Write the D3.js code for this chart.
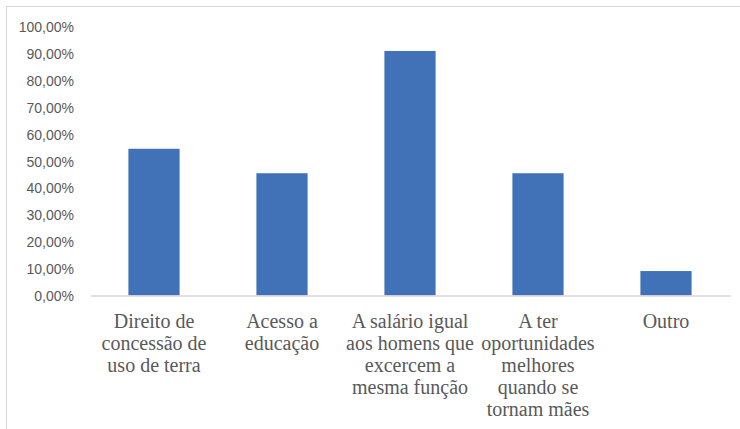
<!DOCTYPE html>
<html>
<head>
<meta charset="utf-8">
<script src="https://cdn.jsdelivr.net/npm/d3@7"></script>
<style>
  html, body { margin: 0; padding: 0; background: #fff; }
  svg { display: block; }
</style>
</head>
<body>
<svg id="chart" width="740" height="429"></svg>
<script>
// Categories (line breaks mark how each label wraps under its bar)
const categories = [
  "Direito de\nconcessão de\nuso de terra",
  "Acesso a\neducação",
  "A salário igual\naos homens que\nexcercem a\nmesma função",
  "A ter\noportunidades\nmelhores\nquando se\ntornam mães",
  "Outro"
];
// Share of responses for each category (percent)
const values = [54.55, 45.45, 90.91, 45.45, 9.09];
// Y axis ticks (percent)
const yTicks = [0, 10, 20, 30, 40, 50, 60, 70, 80, 90, 100];

const svg = d3.select("#chart");
const W = 740, H = 429;
const margin = { left: 90, right: 10, top: 26.5, bottom: 133.5 };

// Chart area frame
svg.append("rect")
  .attr("x", 6.5).attr("y", 6.5)
  .attr("width", W + 20).attr("height", H + 20)
  .attr("fill", "none")
  .attr("stroke", "#d9d9d9")
  .attr("stroke-width", 1);

const x = d3.scaleBand()
  .domain(categories)
  .range([margin.left, W - margin.right])
  .paddingInner(0.6)
  .paddingOuter(0.3);

const y = d3.scaleLinear()
  .domain([0, 100])
  .range([H - margin.bottom, margin.top]);

const fmt = v => d3.format(".2f")(v).replace(".", ",") + "%";

// Y axis labels
const yAxis = d3.axisLeft(y)
  .tickValues(yTicks)
  .tickFormat(fmt)
  .tickSize(0)
  .tickPadding(0);

const gy = svg.append("g")
  .attr("transform", `translate(74,0)`)
  .call(yAxis)
  .attr("font-family", "Liberation Sans")
  .attr("font-size", 14);
gy.select(".domain").remove();
gy.selectAll("text").attr("fill", "#595959").attr("dy", "0.36em");

// Bars
svg.append("g")
  .selectAll("rect")
  .data(values)
  .join("rect")
  .attr("x", (d, i) => x(categories[i]))
  .attr("y", d => y(d))
  .attr("width", x.bandwidth())
  .attr("height", d => y(0) - y(d))
  .attr("fill", "#4172b8");

// Category axis line
const xAxis = d3.axisBottom(x).tickSize(0).tickFormat("");
const gx = svg.append("g")
  .attr("transform", `translate(0,${y(0)})`)
  .call(xAxis);
gx.select(".domain")
  .attr("stroke", "#d9d9d9")
  .attr("stroke-width", 1.5);

// Category labels, wrapped
const labelGroup = svg.append("g")
  .attr("font-family", "Liberation Serif")
  .attr("font-size", 20)
  .attr("fill", "#595959")
  .attr("text-anchor", "middle");

categories.forEach(d => {
  const cx = x(d) + x.bandwidth() / 2;
  d.split("\n").forEach((line, k) => {
    labelGroup.append("text")
      .attr("x", cx)
      .attr("y", y(0) + 32 + k * 22.1)
      .text(line);
  });
});
</script>
</body>
</html>
